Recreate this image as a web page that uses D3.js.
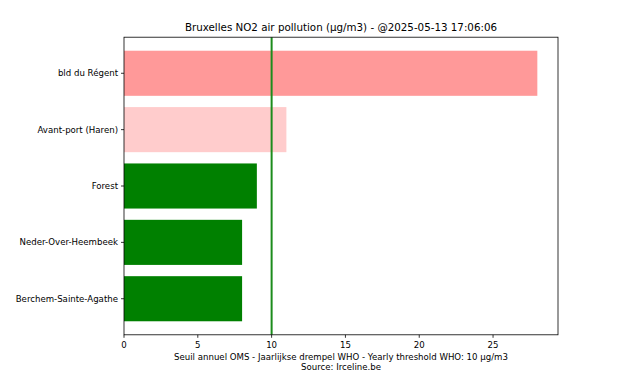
<!DOCTYPE html>
<html><head><meta charset="utf-8">
<script src="https://cdn.jsdelivr.net/npm/d3@7"></script>
<style>body{margin:0;background:#fff}svg{display:block}text{font-family:"DejaVu Sans",sans-serif;fill:#000}</style>
</head><body><svg id="c" width="620" height="372"></svg>
<script>
const stations = ["bld du Régent","Avant-port (Haren)","Forest","Neder-Over-Heembeek","Berchem-Sainte-Agathe"];
const values = [28, 11, 9, 8, 8];
const colors = ["#ff9999","#ffcccc","#008000","#008000","#008000"];
const threshold = 10;
const xTicks = [0,5,10,15,20,25];
const title = "Bruxelles NO2 air pollution (µg/m3) - @2025-05-13 17:06:06";
const xlabel1 = "Seuil annuel OMS - Jaarlijkse drempel WHO - Yearly threshold WHO: 10 µg/m3";
const xlabel2 = "Source: Irceline.be";

const W=620,H=372, L=124, R=558, T=37.2, B=334.8;
const svg=d3.select("#c");
const n=stations.length;
const x=d3.scaleLinear().domain([0, d3.max(values)*1.05]).range([L,R]);
const y=d3.scaleLinear().domain([-0.64, n-1+0.64]).range([B,T]);
const yi=i=>n-1-i;

svg.append("g").selectAll("rect").data(values).join("rect")
  .attr("x",x(0)).attr("width",d=>x(d)-x(0))
  .attr("y",(d,i)=>y(yi(i)+0.4)).attr("height",(d,i)=>y(yi(i)-0.4)-y(yi(i)+0.4))
  .attr("fill",(d,i)=>colors[i]);

svg.append("line").attr("x1",x(threshold)).attr("x2",x(threshold)).attr("y1",T).attr("y2",B)
  .attr("stroke","#1c8c1c").attr("stroke-width",2);

svg.append("rect").attr("x",L).attr("y",T).attr("width",R-L).attr("height",B-T)
  .attr("fill","none").attr("stroke","#000").attr("stroke-width",0.8);

const fs=8.6;
const xg=svg.append("g");
xTicks.forEach(t=>{
  xg.append("line").attr("x1",x(t)).attr("x2",x(t)).attr("y1",B).attr("y2",B+3).attr("stroke","#000").attr("stroke-width",0.8);
  xg.append("text").attr("x",x(t)).attr("y",B+13).attr("text-anchor","middle").attr("font-size",fs).text(t);
});
const yg=svg.append("g");
stations.forEach((s,i)=>{
  const yy=y(yi(i));
  yg.append("line").attr("x1",L-3).attr("x2",L).attr("y1",yy).attr("y2",yy).attr("stroke","#000").attr("stroke-width",0.8);
  yg.append("text").attr("x",L-6).attr("y",yy).attr("dy","0.35em").attr("text-anchor","end").attr("font-size",fs).text(s);
});
svg.append("text").attr("x",(L+R)/2).attr("y",B+25).attr("text-anchor","middle").attr("font-size",fs).text(xlabel1);
svg.append("text").attr("x",(L+R)/2).attr("y",B+35.5).attr("text-anchor","middle").attr("font-size",fs).text(xlabel2);
svg.append("text").attr("x",(L+R)/2).attr("y",T-6).attr("text-anchor","middle").attr("font-size",10.3).text(title);
</script></body></html>
